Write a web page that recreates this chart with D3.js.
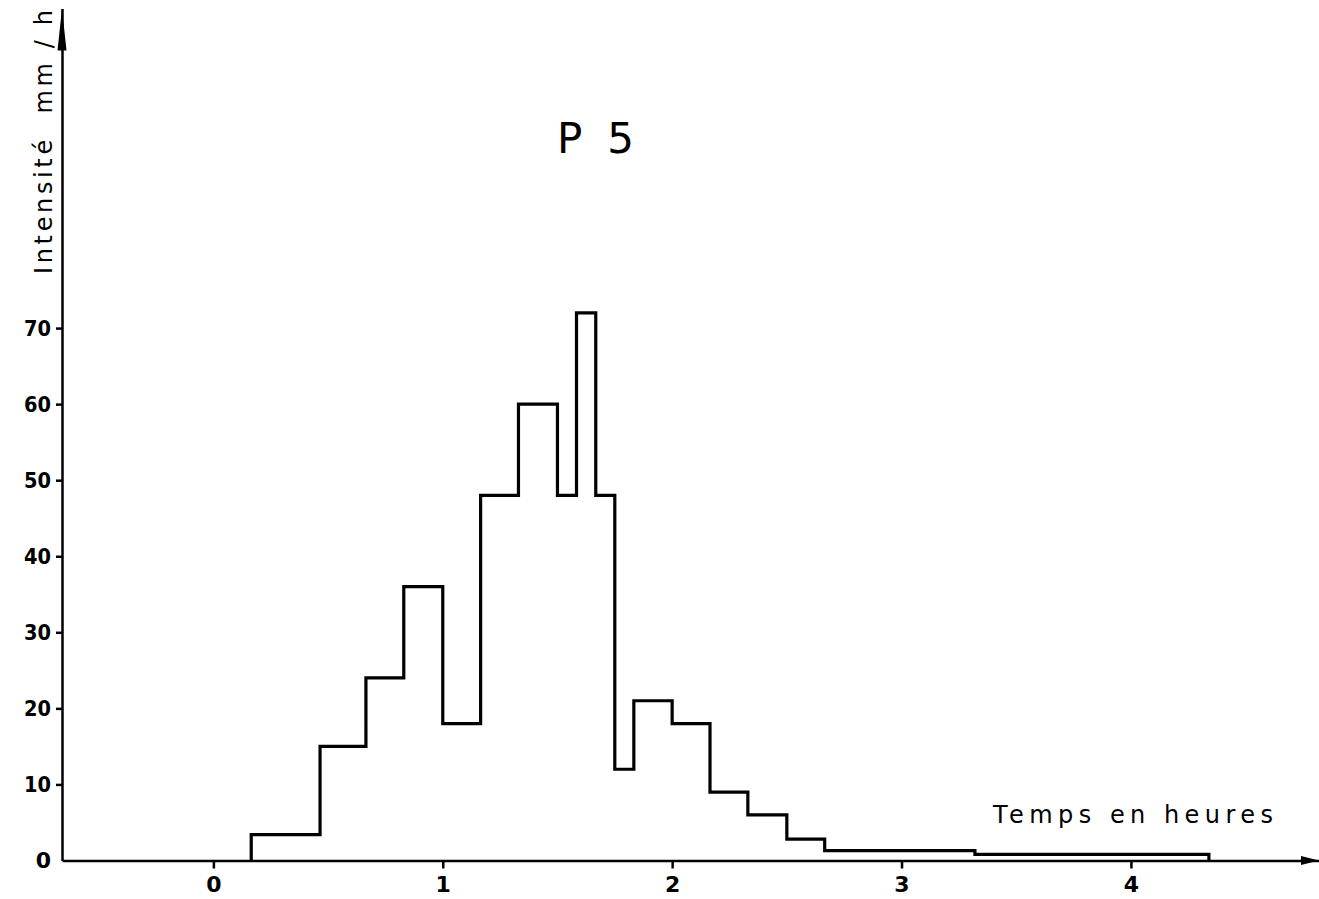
<!DOCTYPE html>
<html>
<head>
<meta charset="utf-8">
<script src="https://cdn.jsdelivr.net/npm/d3@7"></script>
<style>
  html, body { margin: 0; padding: 0; background: #fff; }
  svg { display: block; }
</style>
</head>
<body>
<svg id="chart" width="1319" height="899"></svg>
<script>
// Interval edges (hours) and rainfall intensity (mm/h) for each interval
const edges = [0.165, 0.465, 0.665, 0.83, 1.0, 1.165, 1.33, 1.5, 1.583, 1.667, 1.75, 1.833, 2.0, 2.165, 2.33, 2.5, 2.665, 3.32, 4.34];
const intensity = [3.4, 15, 24, 36, 18, 48, 60, 48, 72, 48, 12, 21, 18, 9, 6, 2.8, 1.3, 0.8];
const xTicks = [0, 1, 2, 3, 4];
const yTicks = [0, 10, 20, 30, 40, 50, 60, 70];
const title = "P  5";
const yTitle = "Intensité  mm / h";
const xTitle = "Temps en heures";

const svg = d3.select("#chart");
const x = d3.scaleLinear().domain([-0.66, 4.82]).range([62, 1319]);
const y = d3.scaleLinear().domain([0, 112]).range([860.5, 8.6]);

const font = "'DejaVu Sans', sans-serif";

// X axis
const gx = svg.append("g").attr("transform", `translate(0,${y(0)})`)
  .call(d3.axisBottom(x).tickValues(xTicks).tickSize(8).tickPadding(8).tickSizeOuter(0).tickFormat(d3.format("d")));
gx.select(".domain").attr("stroke", "#000").attr("stroke-width", 2.5);
gx.selectAll(".tick line").attr("stroke", "#000").attr("stroke-width", 2.5);
gx.selectAll(".tick text").attr("font-family", font).attr("font-size", 22).attr("font-weight", "bold").attr("fill", "#000");

// Y axis
const gy = svg.append("g").attr("transform", `translate(${x(-0.66)},0)`)
  .call(d3.axisLeft(y).tickValues(yTicks).tickSize(6).tickPadding(5).tickSizeOuter(0).tickFormat(d3.format("d")));
gy.select(".domain").attr("stroke", "#000").attr("stroke-width", 2.5);
gy.selectAll(".tick line").attr("stroke", "#000").attr("stroke-width", 2.5);
gy.selectAll(".tick text").attr("font-family", font).attr("font-size", 22).attr("font-weight", "bold").attr("fill", "#000")
  .attr("textLength", 27).attr("lengthAdjust", "spacingAndGlyphs");
gy.selectAll(".tick").filter(d => d === 0).select("text").attr("textLength", null);
gy.selectAll(".tick").filter(d => d === 0).select("line").remove();

// Arrowheads
const x0 = x(-0.66), yTop = y(112), y0 = y(0), xEnd = x(4.82);
svg.append("path")
  .attr("d", `M${x0},${yTop} L${x0 - 4.5},${yTop + 42} L${x0 + 4.5},${yTop + 42} Z`)
  .attr("fill", "#000");
svg.append("path")
  .attr("d", `M${xEnd},${y0} L${xEnd - 18},${y0 - 4.5} L${xEnd - 18},${y0 + 4.5} Z`)
  .attr("fill", "#000");

// Step hyetograph
const pts = [[edges[0], 0]];
intensity.forEach((v, i) => pts.push([edges[i], v]));
pts.push([edges[edges.length - 1], intensity[intensity.length - 1]]);
pts.push([edges[edges.length - 1], 0]);
const line = d3.line().x(d => x(d[0])).y(d => y(d[1])).curve(d3.curveStepAfter);
svg.append("path").datum(pts)
  .attr("d", line)
  .attr("fill", "none")
  .attr("stroke", "#000")
  .attr("stroke-width", 3.2)
  .attr("stroke-linejoin", "miter");

// Title
svg.append("text").attr("x", 557).attr("y", 153)
  .attr("font-family", font).attr("font-size", 42)
  .attr("textLength", 77).attr("lengthAdjust", "spacing")
  .attr("fill", "#000").attr("xml:space", "preserve").text(title);

// Y title (rotated)
svg.append("text")
  .attr("transform", "translate(52,274) rotate(-90)")
  .attr("font-family", font).attr("font-size", 24)
  .attr("textLength", 264).attr("lengthAdjust", "spacing")
  .attr("fill", "#000").attr("xml:space", "preserve").text(yTitle);

// X title
svg.append("text").attr("x", 993).attr("y", 823)
  .attr("font-family", font).attr("font-size", 24)
  .attr("textLength", 280).attr("lengthAdjust", "spacing")
  .attr("fill", "#000").attr("xml:space", "preserve").text(xTitle);
</script>
</body>
</html>
